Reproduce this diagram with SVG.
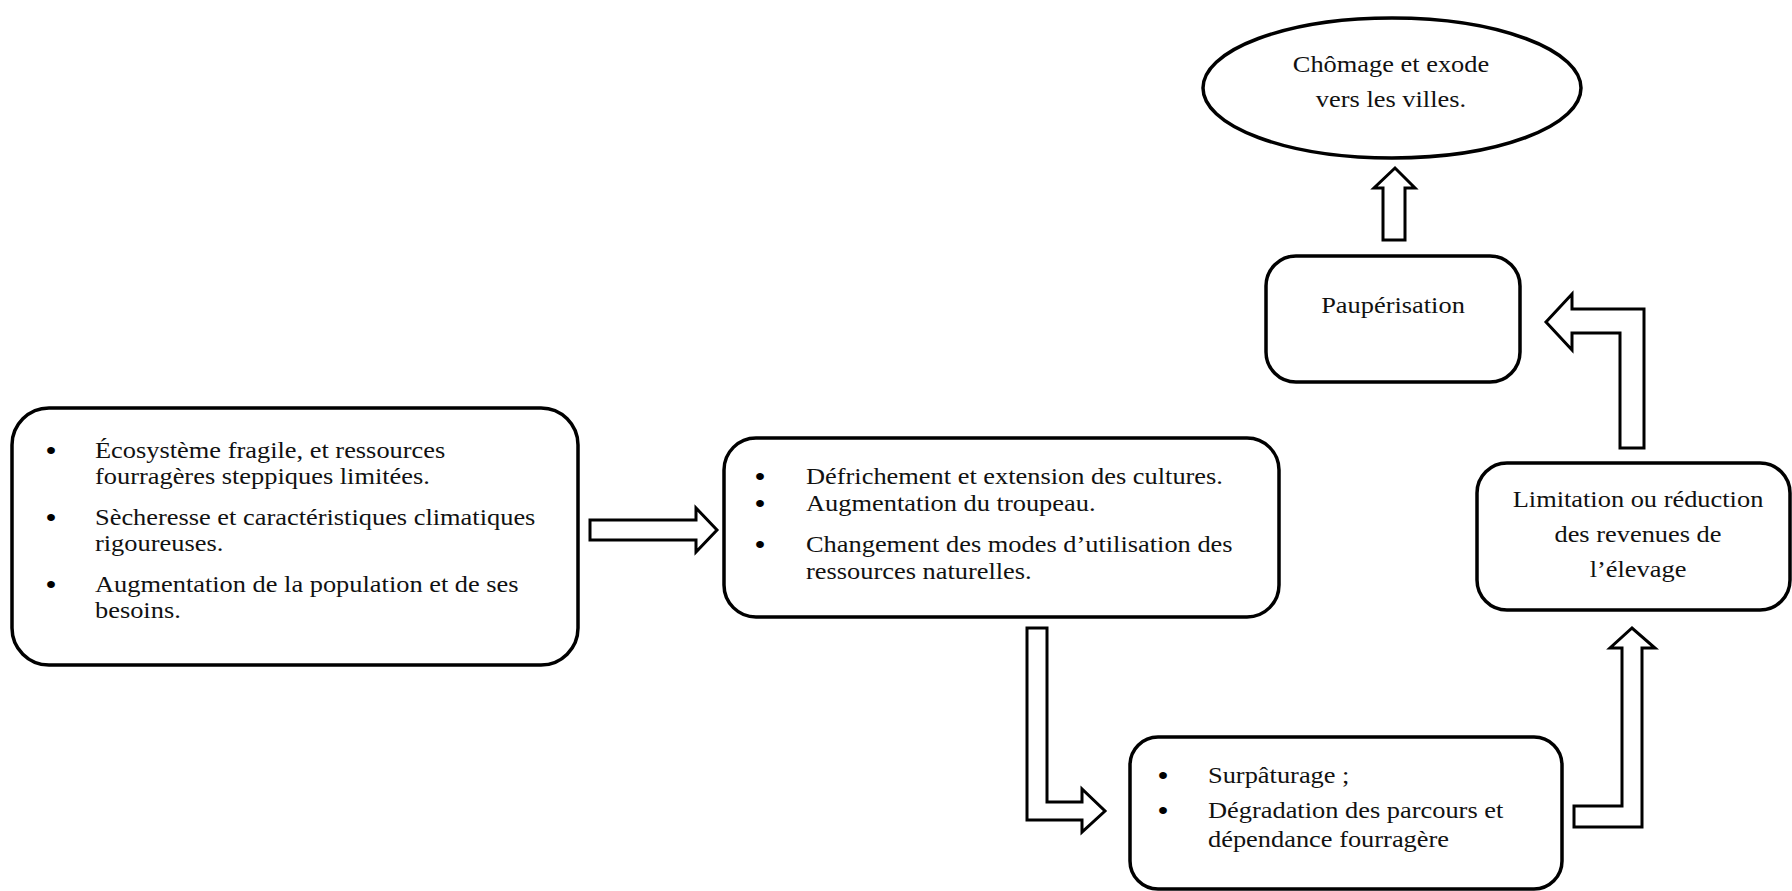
<svg xmlns="http://www.w3.org/2000/svg" width="1792" height="891" viewBox="0 0 1792 891">
  <style>
    .box { fill: #ffffff; stroke: #000000; stroke-width: 3.5; }
    .arrow { fill: #ffffff; stroke: #000000; stroke-width: 3; stroke-linejoin: miter; }
    .t { font-family: "Liberation Serif", "Times New Roman", serif; font-size: 24px; fill: #111111; }
    .c { text-anchor: middle; }
    .b { font-family: "Liberation Sans", Arial, sans-serif; font-size: 26px; fill: #000000; text-anchor: middle; }
  </style>
  <rect width="1792" height="891" fill="#ffffff"/>

  <!-- connectors: hollow block arrows -->
  <g id="connectors">
    <polygon class="arrow" points="590,520 696,520 696,508 717,530 696,552 696,540 590,540"/>
    <polygon class="arrow" points="1027,628 1047,628 1047,802 1082,802 1082,789 1105,811 1082,832 1082,820 1027,820"/>
    <polygon class="arrow" points="1574,806 1622,806 1622,648 1610,648 1632,628 1655,648 1642,648 1642,827 1574,827"/>
    <polygon class="arrow" points="1644,448 1620,448 1620,333 1572,333 1572,350 1546,322 1572,294 1572,309 1644,309"/>
    <polygon class="arrow" points="1383,240 1405,240 1405,188 1415,188 1395,168 1374,188 1383,188"/>
  </g>

  <!-- causes -->
  <g id="node-causes">
    <rect class="box" x="12" y="408" width="566" height="257" rx="37" ry="37"/>
    <text class="b" transform="translate(51 459) scale(1.1 1)">•</text>
    <text class="b" transform="translate(51 526) scale(1.1 1)">•</text>
    <text class="b" transform="translate(51 593) scale(1.1 1)">•</text>
    <text class="t" transform="translate(95 458) scale(1.1 1)">Écosystème fragile, et ressources</text>
    <text class="t" transform="translate(95 484) scale(1.1 1)">fourragères steppiques limitées.</text>
    <text class="t" transform="translate(95 525) scale(1.1 1)">Sècheresse et caractéristiques climatiques</text>
    <text class="t" transform="translate(95 551) scale(1.1 1)">rigoureuses.</text>
    <text class="t" transform="translate(95 592) scale(1.1 1)">Augmentation de la population et de ses</text>
    <text class="t" transform="translate(95 618) scale(1.1 1)">besoins.</text>
  </g>

  <!-- pressures on resources -->
  <g id="node-pressures">
    <rect class="box" x="724" y="438" width="555" height="179" rx="32" ry="32"/>
    <text class="b" transform="translate(760 485) scale(1.1 1)">•</text>
    <text class="b" transform="translate(760 512) scale(1.1 1)">•</text>
    <text class="b" transform="translate(760 553) scale(1.1 1)">•</text>
    <text class="t" transform="translate(806 484) scale(1.1 1)">Défrichement et extension des cultures.</text>
    <text class="t" transform="translate(806 511) scale(1.1 1)">Augmentation du troupeau.</text>
    <text class="t" transform="translate(806 552) scale(1.1 1)">Changement des modes d’utilisation des</text>
    <text class="t" transform="translate(806 579) scale(1.1 1)">ressources naturelles.</text>
  </g>

  <!-- overgrazing -->
  <g id="node-overgrazing">
    <rect class="box" x="1130" y="737" width="432" height="152" rx="28" ry="28"/>
    <text class="b" transform="translate(1163 784) scale(1.1 1)">•</text>
    <text class="b" transform="translate(1163 819) scale(1.1 1)">•</text>
    <text class="t" transform="translate(1208 783) scale(1.1 1)">Surpâturage ;</text>
    <text class="t" transform="translate(1208 818) scale(1.1 1)">Dégradation des parcours et</text>
    <text class="t" transform="translate(1208 847) scale(1.1 1)">dépendance fourragère</text>
  </g>

  <!-- income -->
  <g id="node-income">
    <rect class="box" x="1477" y="463" width="313" height="147" rx="30" ry="30"/>
    <text class="t c" transform="translate(1638 507) scale(1.1 1)">Limitation ou réduction</text>
    <text class="t c" transform="translate(1638 542) scale(1.1 1)">des revenues de</text>
    <text class="t c" transform="translate(1638 577) scale(1.1 1)">l’élevage</text>
  </g>

  <!-- poverty -->
  <g id="node-poverty">
    <rect class="box" x="1266" y="256" width="254" height="126" rx="30" ry="30"/>
    <text class="t c" transform="translate(1393 313) scale(1.1 1)">Paupérisation</text>
  </g>

  <!-- outcome -->
  <g id="node-outcome">
    <ellipse class="box" cx="1392" cy="88" rx="189" ry="70"/>
    <text class="t c" transform="translate(1391 72) scale(1.1 1)">Chômage et exode</text>
    <text class="t c" transform="translate(1391 107) scale(1.1 1)">vers les villes.</text>
  </g>
</svg>
